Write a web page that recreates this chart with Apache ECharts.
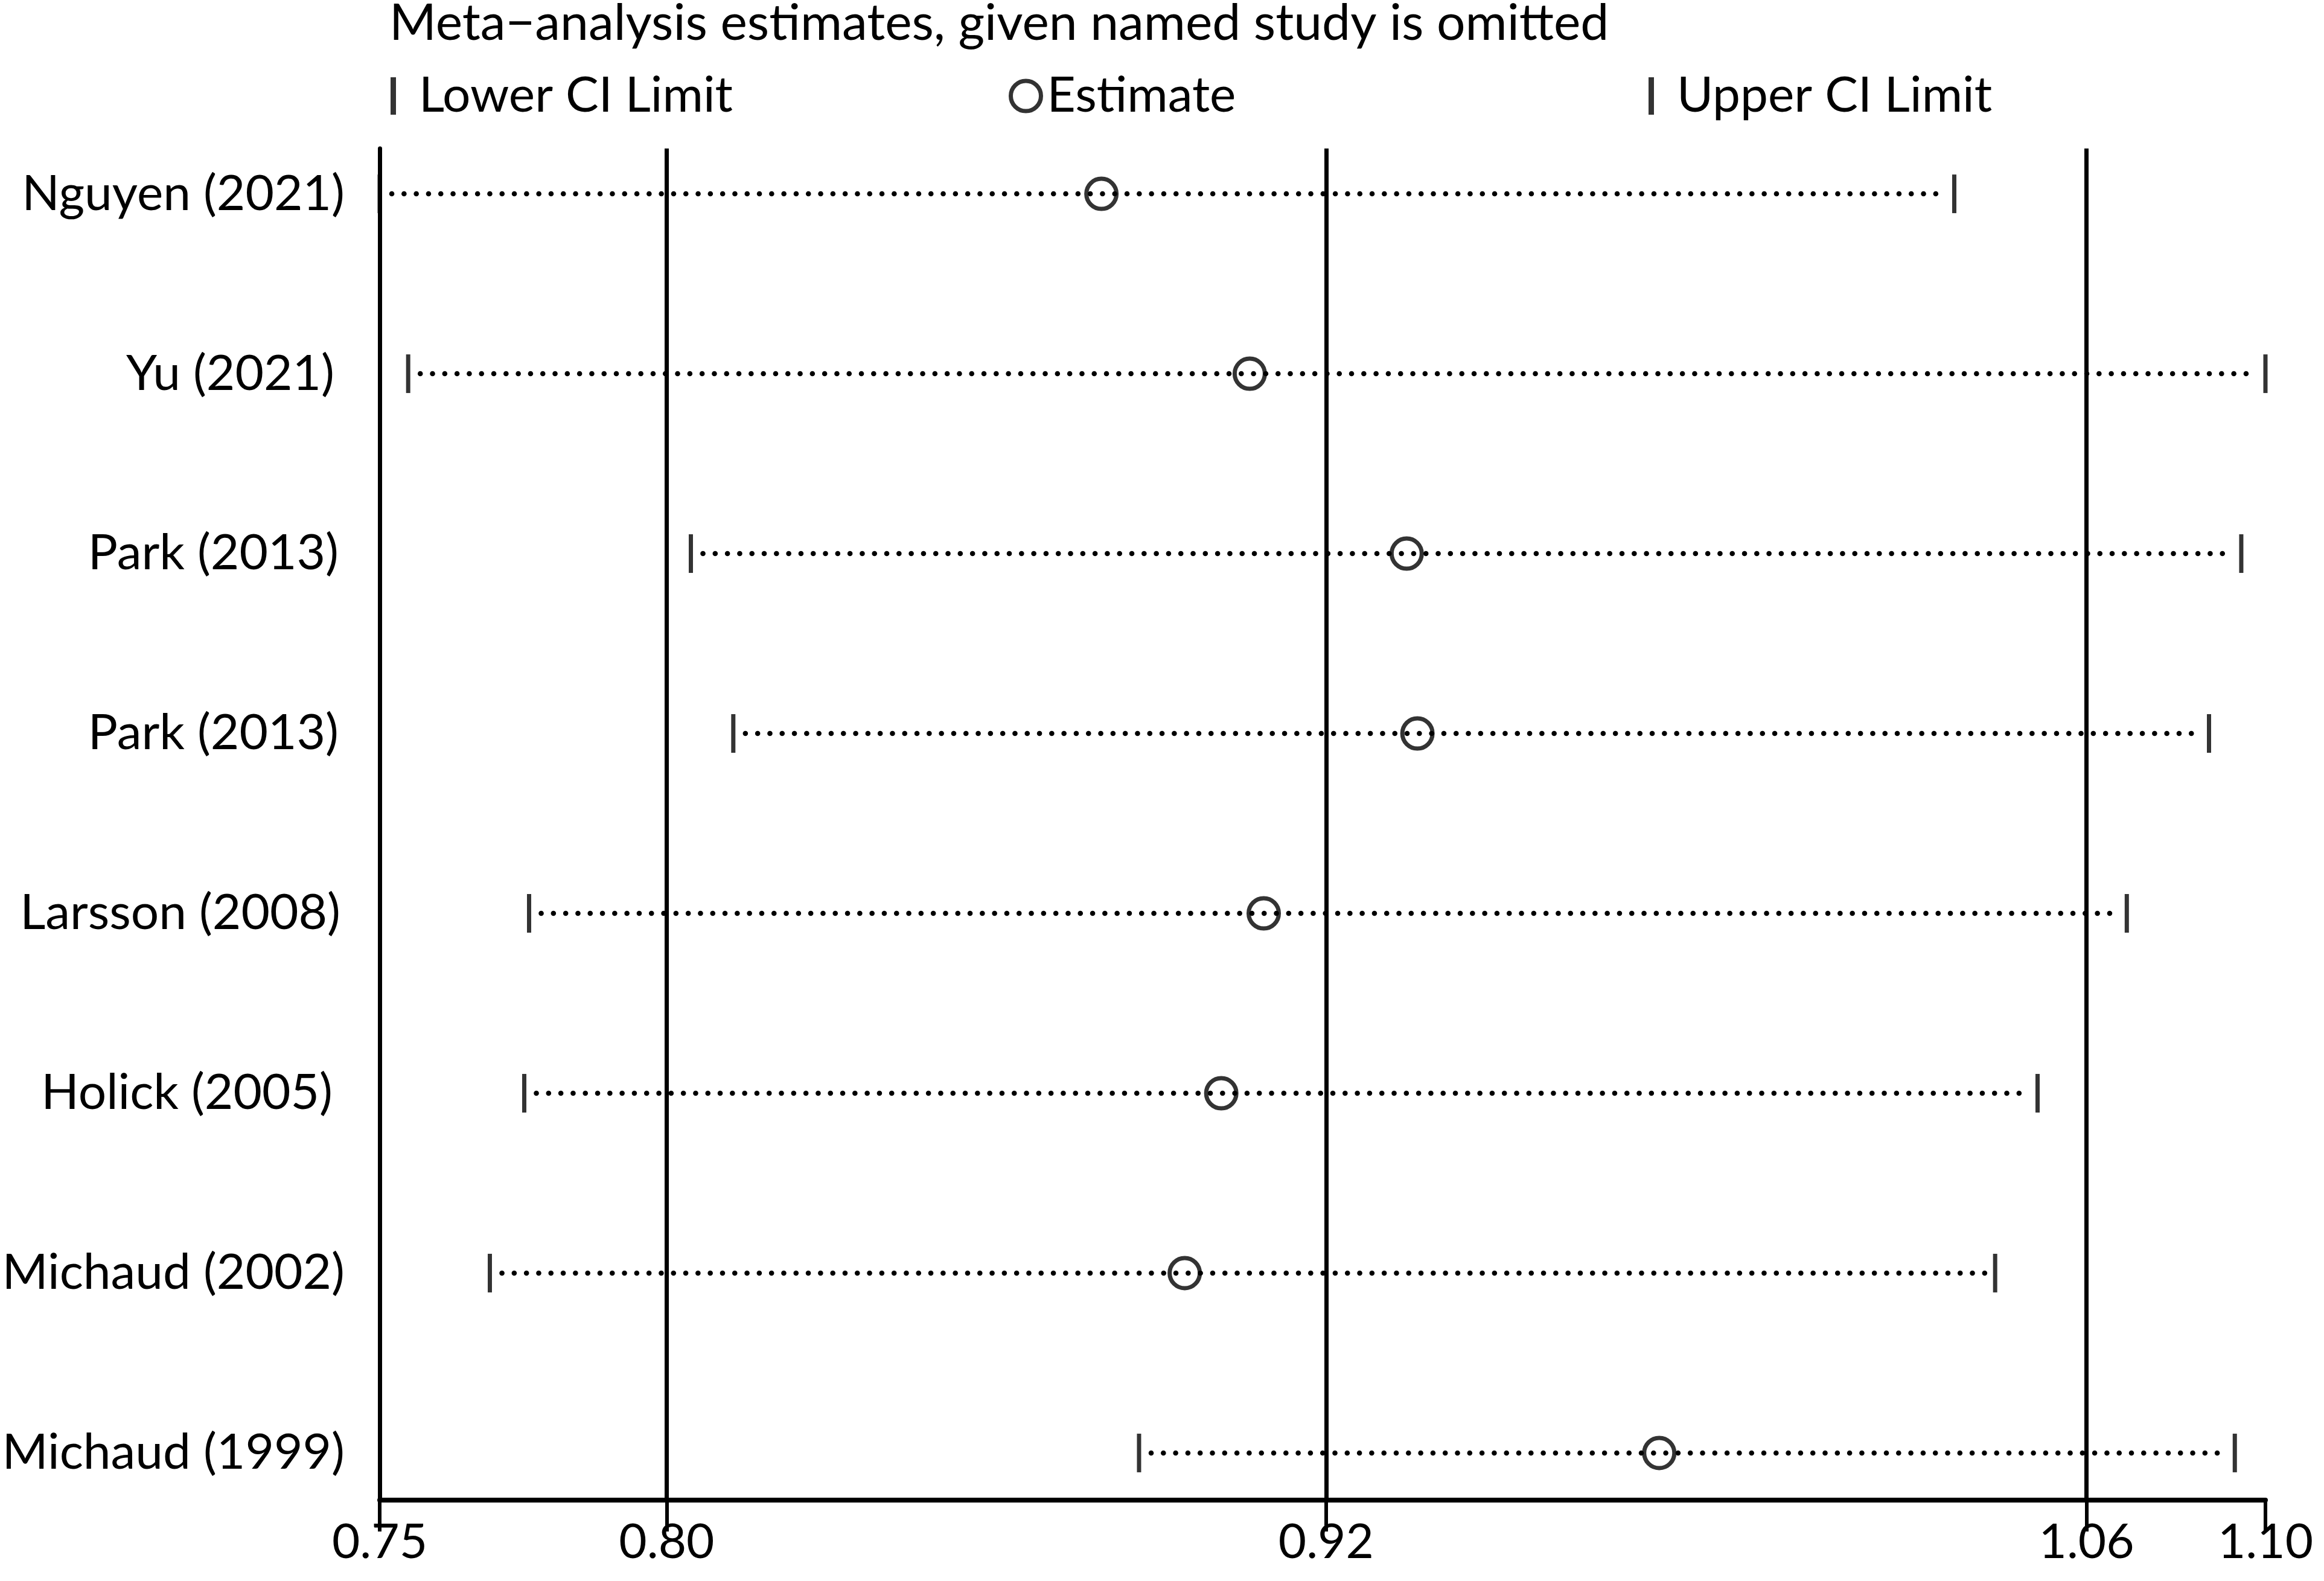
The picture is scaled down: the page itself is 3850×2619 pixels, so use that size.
<!DOCTYPE html>
<html>
<head>
<meta charset="utf-8">
<title>Influence analysis</title>
<script src="https://cdn.jsdelivr.net/npm/echarts@6.0.0/dist/echarts.min.js"></script>
<style>
  html, body { margin: 0; padding: 0; background: #fff; }
  #main { width: 3850px; height: 2619px; }
</style>
</head>
<body>
<div id="main"></div>
<script>
// studies, top to bottom
var studies = ['Nguyen (2021)', 'Yu (2021)', 'Park (2013)', 'Park (2013)',
               'Larsson (2008)', 'Holick (2005)', 'Michaud (2002)', 'Michaud (1999)'];
var estimate = [0.8803, 0.9079, 0.9371, 0.9391, 0.9105, 0.9026, 0.8958, 0.9841];
var lowerCI  = [0.7460, 0.7513, 0.8039, 0.8118, 0.7738, 0.7729, 0.7665, 0.8873];
var upperCI  = [1.0390, 1.0969, 1.0924, 1.0864, 1.0711, 1.0545, 1.0466, 1.0912];

// pooled lower / estimate / upper, and axis ends
var refLines   = [0.7994, 0.9221, 1.0636];
var tickValues = [0.7460, 0.7994, 0.9221, 1.0636, 1.0969];
var tickLabels = ['0.75', '0.80', '0.92', '1.06', '1.10'];

var rows = studies.map(function (s, i) { return i + 1; });
var FONT = 'Lato';
// the original labels are not flush right, nudge a few of them
var labelPad = [0, 17, 10, 10, 7, 20, 0, 0];

function pairs(vals) {
    return vals.map(function (v, i) { return [v, rows[i]]; });
}

var ciData = studies.map(function (s, i) { return [lowerCI[i], upperCI[i], rows[i]]; });

var rich = {};
labelPad.forEach(function (p, i) {
    rich['s' + i] = { fontFamily: FONT, fontSize: 82, color: '#000', padding: [0, p, 0, 0] };
});

var chart = echarts.init(document.getElementById('main'));

var legendText = { fontFamily: FONT, fontSize: 82, color: '#000' };

var option = {
    backgroundColor: '#fff',
    animation: false,
    title: {
        text: 'Meta\u2212analysis estimates, given named study is omitted',
        left: 640,
        top: -8,
        textStyle: { fontFamily: FONT, fontSize: 84, fontWeight: 'normal', color: '#000' }
    },
    legend: [
        {
            data: ['Lower CI Limit'],
            left: 642, top: 113,
            icon: 'rect', itemWidth: 9, itemHeight: 62,
            symbolKeepAspect: false,
            itemStyle: { color: '#000' },
            textStyle: Object.assign({ padding: [0, 0, 0, 33] }, legendText)
        },
        {
            data: ['Estimate'],
            left: 1666, top: 113,
            icon: 'circle', itemWidth: 50, itemHeight: 50,
            itemStyle: { color: 'transparent', borderColor: '#000', borderWidth: 7 },
            textStyle: Object.assign({ padding: [0, 0, 0, 5] }, legendText)
        },
        {
            data: ['Upper CI Limit'],
            left: 2726, top: 113,
            icon: 'rect', itemWidth: 9, itemHeight: 62,
            symbolKeepAspect: false,
            itemStyle: { color: '#000' },
            textStyle: Object.assign({ padding: [0, 0, 0, 33] }, legendText)
        }
    ],
    grid: { left: 629, right: 97, top: 246, bottom: 134 },
    xAxis: {
        type: 'value',
        min: tickValues[0],
        max: tickValues[tickValues.length - 1],
        axisLine: { show: true, lineStyle: { color: '#000', width: 8 } },
        axisTick: { show: true, customValues: tickValues, length: 52,
                    lineStyle: { color: '#000', width: 6 } },
        axisLabel: {
            customValues: tickValues,
            margin: 30,
            fontFamily: FONT, fontSize: 80, color: '#000',
            formatter: function (v) {
                var i = tickValues.indexOf(v);
                return i >= 0 ? tickLabels[i] : '';
            }
        },
        splitLine: { show: false }
    },
    yAxis: {
        type: 'value',
        inverse: true,
        min: 0.748,
        max: 8.262,
        axisLine: { show: true, lineStyle: { color: '#000', width: 7 } },
        axisTick: { show: false },
        axisLabel: {
            customValues: rows,
            margin: 58,
            fontFamily: FONT, fontSize: 82, color: '#000',
            rich: rich,
            formatter: function (v) {
                var i = v - 1;
                return studies[i] ? '{s' + i + '|' + studies[i] + '}' : '';
            }
        },
        splitLine: { show: false }
    },
    series: [
        {
            name: 'CI',
            type: 'custom',
            data: ciData,
            encode: { x: [0, 1], y: 2 },
            z: 1,
            renderItem: function (params, api) {
                var a = api.coord([api.value(0), api.value(2)]);
                var b = api.coord([api.value(1), api.value(2)]);
                return {
                    type: 'line',
                    shape: { x1: a[0] + 20, y1: a[1], x2: b[0] - 16, y2: b[1] },
                    style: { stroke: '#000', lineWidth: 8.5, lineDash: [0.1, 20.2], lineCap: 'round' }
                };
            },
            markLine: {
                silent: true,
                symbol: 'none',
                precision: 4,
                label: { show: false },
                lineStyle: { color: '#000', width: 7, type: 'solid' },
                data: refLines.map(function (v) { return { xAxis: v }; })
            }
        },
        {
            name: 'Lower CI Limit',
            type: 'scatter',
            data: pairs(lowerCI),
            symbol: 'rect',
            symbolSize: [7, 64],
            itemStyle: { color: '#000' },
            z: 3
        },
        {
            name: 'Upper CI Limit',
            type: 'scatter',
            data: pairs(upperCI),
            symbol: 'rect',
            symbolSize: [7, 64],
            itemStyle: { color: '#000' },
            z: 3
        },
        {
            name: 'Estimate',
            type: 'scatter',
            data: pairs(estimate),
            symbol: 'circle',
            symbolSize: 50,
            itemStyle: { color: 'transparent', borderColor: '#000', borderWidth: 7 },
            z: 4
        }
    ]
};

chart.setOption(option);
</script>
</body>
</html>
